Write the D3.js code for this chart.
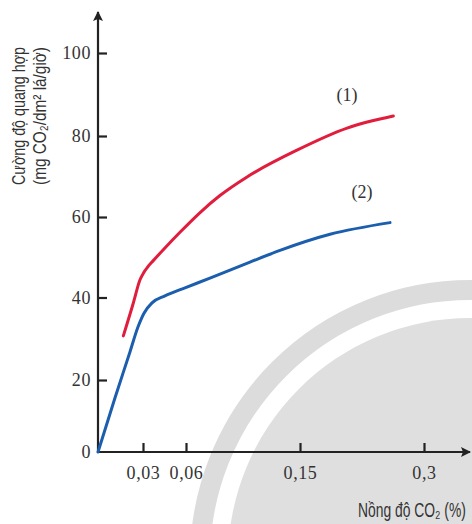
<!DOCTYPE html>
<html>
<head>
<meta charset="utf-8">
<script src="https://cdn.jsdelivr.net/npm/d3@7"></script>
<style>
  body { margin: 0; background: #fff; }
  .title { font-family: "Liberation Sans Narrow", "Arial Narrow", "Liberation Sans", "DejaVu Sans", sans-serif; fill: #333; }
</style>
</head>
<body>
<div id="chart"></div>
<script>
// Data
const xTicks = [0.03, 0.06, 0.15, 0.3];
const yTicks = [0, 20, 40, 60, 80, 100];

// curve (1)
const co2One = [0.0169, 0.0235, 0.028, 0.0307, 0.0335, 0.037, 0.0453, 0.0558, 0.0711, 0.0868, 0.1082, 0.1476, 0.2069, 0.2629];
const rateOne = [30.7, 38.6, 44.4, 46.3, 47.7, 49.1, 52.3, 56.2, 61.1, 65.3, 69.9, 76.5, 81.9, 84.8];

// curve (2)
const co2Two = [0, 0.0113, 0.0213, 0.0267, 0.0307, 0.0363, 0.0453, 0.0593, 0.0789, 0.1105, 0.1342, 0.1863, 0.2589];
const rateTwo = [0, 15, 26.8, 32.9, 36.2, 38.7, 40.4, 42.4, 44.8, 48.8, 51.7, 55.7, 58.6];

const seriesLabels = ["(1)", "(2)"];

const width = 472;
const height = 524;
const serif = "Liberation Serif, Times New Roman, serif";

const svg = d3.select("#chart")
    .append("svg")
    .attr("width", width)
    .attr("height", height);

// the axes of the figure are not evenly spaced, so use piecewise scales
const x = d3.scaleLinear()
    .domain([0, 0.03, 0.06, 0.15, 0.3])
    .range([98, 143, 186, 300, 424]);
const y = d3.scaleLinear()
    .domain([0, 20, 40, 60, 80, 100])
    .range([452, 380, 297.5, 217, 136, 53]);

// faint watermark in the background
const wm = svg.append("g");
wm.append("circle")
    .attr("cx", 470).attr("cy", 560).attr("r", 270)
    .attr("fill", "none").attr("stroke", "#dcdcdc").attr("stroke-width", 20);
wm.append("circle")
    .attr("cx", 470).attr("cy", 560).attr("r", 242)
    .attr("fill", "#dfdfdf");

// arrow marker
svg.append("defs").append("marker")
    .attr("id", "arrow")
    .attr("viewBox", "0 0 10 10")
    .attr("refX", 9).attr("refY", 5)
    .attr("markerWidth", 10).attr("markerHeight", 10)
    .attr("markerUnits", "userSpaceOnUse")
    .attr("orient", "auto")
    .append("path")
    .attr("d", "M0,0 L10,5 L0,10 L2,5 Z")
    .attr("fill", "#222");

// axis lines
svg.append("line")
    .attr("x1", x(0)).attr("y1", y(0))
    .attr("x2", x(0)).attr("y2", 12)
    .attr("stroke", "#222").attr("stroke-width", 2.2)
    .attr("marker-end", "url(#arrow)");
svg.append("line")
    .attr("x1", x(0) - 1).attr("y1", y(0))
    .attr("x2", 470).attr("y2", y(0))
    .attr("stroke", "#222").attr("stroke-width", 2.2)
    .attr("marker-end", "url(#arrow)");

const fmt = d => String(d).replace(".", ",");

const yAxis = svg.append("g")
    .attr("transform", `translate(${x(0)},0)`)
    .call(d3.axisLeft(y).tickValues(yTicks).tickFormat(fmt)
        .tickSizeInner(-9).tickSizeOuter(0).tickPadding(7));
yAxis.select(".domain").remove();
yAxis.selectAll(".tick line").attr("stroke", "#222").attr("stroke-width", 2.2);
yAxis.selectAll(".tick").filter(d => d === 0).select("line").remove();

const xAxis = svg.append("g")
    .attr("transform", `translate(0,${y(0)})`)
    .call(d3.axisBottom(x).tickValues(xTicks).tickFormat(fmt)
        .tickSizeInner(-9).tickSizeOuter(0).tickPadding(14));
xAxis.select(".domain").remove();
xAxis.selectAll(".tick line").attr("stroke", "#222").attr("stroke-width", 2.2);

svg.selectAll(".tick text")
    .attr("font-family", serif)
    .attr("font-size", 18)
    .attr("letter-spacing", 0.6)
    .attr("fill", "#333");

// curves
const line = d3.line()
    .x(d => x(d[0]))
    .y(d => y(d[1]))
    .curve(d3.curveMonotoneX);

svg.append("path")
    .datum(d3.zip(co2One, rateOne))
    .attr("d", line)
    .attr("fill", "none")
    .attr("stroke", "#e11d3d")
    .attr("stroke-width", 3)
    .attr("stroke-linecap", "round");

svg.append("path")
    .datum(d3.zip(co2Two, rateTwo))
    .attr("d", line)
    .attr("fill", "none")
    .attr("stroke", "#1c5eae")
    .attr("stroke-width", 3)
    .attr("stroke-linecap", "round");

// series labels
svg.selectAll(".slabel")
    .data(seriesLabels)
    .enter().append("text")
    .attr("class", "slabel")
    .attr("x", (d, i) => i === 0 ? 347 : 362)
    .attr("y", (d, i) => i === 0 ? 101 : 198)
    .attr("text-anchor", "middle")
    .attr("font-family", serif)
    .attr("font-size", 18)
    .attr("fill", "#333")
    .text(d => d);

// axis titles, squeezed horizontally to look like the condensed face
function condensed(g, label, size, targetWidth, anchor) {
    const t = g.append("text")
        .attr("class", "title")
        .attr("font-size", size)
        .attr("text-anchor", anchor)
        .text(label);
    const w = t.node().getComputedTextLength();
    t.attr("transform", `scale(${targetWidth / w},1)`);
    return t;
}

condensed(svg.append("g").attr("transform", "translate(25,116) rotate(-90)"),
    "Cường độ quang hợp", 18, 138, "middle");
condensed(svg.append("g").attr("transform", "translate(46,116) rotate(-90)"),
    "(mg CO₂/dm² lá/giờ)", 18, 138, "middle");
condensed(svg.append("g").attr("transform", "translate(358,517)"),
    "Nồng độ CO₂ (%)", 20, 108, "start");
</script>
</body>
</html>
